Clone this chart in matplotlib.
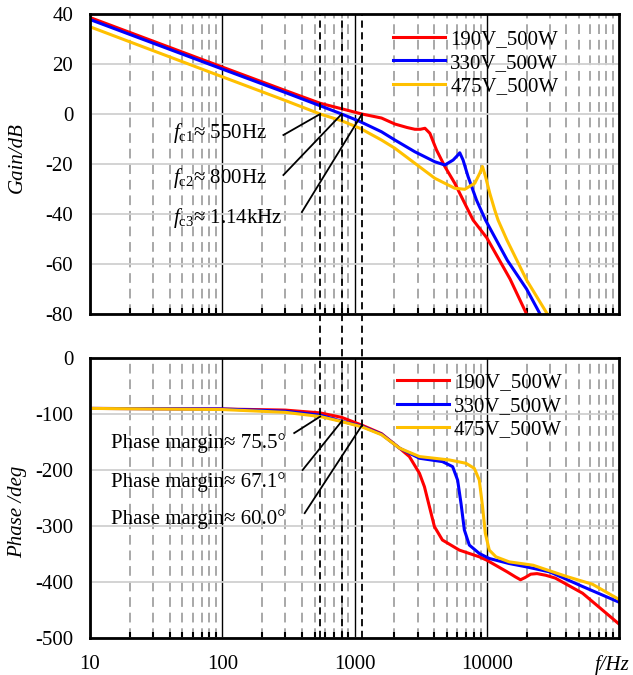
import numpy as np
import matplotlib
matplotlib.use('Agg')
import matplotlib.pyplot as plt
from matplotlib.lines import Line2D
from matplotlib import transforms
from matplotlib.ticker import NullFormatter, LogLocator

plt.rcParams['font.family'] = ['Liberation Serif', 'DejaVu Serif']
plt.rcParams['mathtext.fontset'] = 'custom'
plt.rcParams['mathtext.rm'] = 'Liberation Serif'
plt.rcParams['mathtext.it'] = 'Liberation Serif:italic'
plt.rcParams['axes.unicode_minus'] = False

labels = ['190V_500W', '330V_500W', '475V_500W']
colors = ['#FF0000', '#0000FF', '#FFC000']

# gain curves [dB]
f_gain_190 = [10, 100, 300, 550, 800, 1140, 1600, 2020, 2500, 2860, 3150, 3410, 3715, 4170,
              4820, 5730, 7220, 7880, 10000, 15000, 20000, 22000]
gain_190 = [38.6, 18.8, 9.4, 4.3, 2.1, 0.0, -1.6, -4.0, -5.4, -6.1, -6.1, -5.7, -7.7, -14.4,
            -21.0, -27.7, -38.4, -42.4, -49.5, -66.0, -80.0, -86.0]

f_gain_330 = [10, 100, 300, 550, 800, 1100, 1600, 2020, 2860, 4050, 4820, 5570, 6000, 6250,
              6620, 7220, 8360, 9780, 14300, 20000, 25300, 27000]
gain_330 = [37.8, 18.0, 8.6, 3.3, 0.0, -3.0, -7.1, -10.4, -15.1, -19.1, -20.4, -18.4, -16.6, -15.5,
            -18.4, -25.0, -34.4, -42.4, -58.5, -70.0, -80.0, -83.0]

f_gain_475 = [10, 100, 300, 550, 800, 1100, 1600, 2020, 2860, 4050, 5730, 6820, 8110, 8850,
              9280, 9780, 10540, 11490, 12170, 14200, 20000, 28700, 31000]
gain_475 = [34.9, 14.9, 5.4, 0.0, -2.7, -5.7, -10.4, -13.7, -19.7, -25.7, -29.7, -30.1, -27.7, -23.7,
            -21.0, -25.0, -31.7, -38.4, -42.4, -50.4, -66.4, -80.0, -83.0]

# phase curves [deg]
f_phase_190 = [10, 100, 300, 550, 800, 1140, 1600, 2190, 2600, 3100, 3380, 3690, 4020, 4620,
               6200, 8780, 10000, 14300, 16500, 18000, 19500, 21500, 24000, 28000, 33000, 53000, 100000]
phase_190 = [-90, -91, -93, -98, -106, -120, -135, -161, -176, -206, -230, -266, -301, -325,
             -343, -355, -361, -382, -391, -396, -392, -386, -385, -388, -393, -420, -475]

f_phase_330 = [10, 100, 300, 550, 800, 1140, 1600, 2190, 3100, 4620, 5520, 6020, 6390, 6770,
               7380, 8780, 10450, 14780, 20000, 30000, 53000, 100000]
phase_330 = [-90, -91, -95, -102, -112.9, -122, -136, -161, -179, -185, -194, -218, -260, -307,
             -334, -349, -358, -367, -373, -382, -408, -436]

f_phase_475 = [10, 100, 300, 550, 800, 1140, 1600, 2190, 3100, 5210, 6970, 8050, 8780, 9300,
               9750, 10450, 11730, 14780, 22400, 40000, 63000, 100000]
phase_475 = [-90, -92, -97, -104.5, -113.5, -123, -137, -161, -176, -182, -188, -197, -218, -266,
             -313, -343, -355, -364, -370, -390, -404, -431]

# crossover frequencies and phase margins
fc_hz = [550, 800, 1140]
fc_text = ['550Hz', '800Hz', '1.14kHz']
pm_deg = [75.5, 67.1, 60.0]

fig = plt.figure(figsize=(6.33, 6.75), dpi=100)
ax1 = fig.add_axes([0.1422, 0.5348, 0.8357, 0.4444])
ax2 = fig.add_axes([0.1422, 0.0548, 0.8357, 0.4148])


def style_axes(ax, ylim, yticks):
    ax.set_xscale('log')
    ax.set_xlim(10, 1e5)
    ax.set_ylim(*ylim)
    ax.set_yticks(yticks)
    ax.set_xticks([10, 100, 1000, 10000])
    ax.xaxis.set_minor_locator(LogLocator(base=10, subs=np.arange(2, 10)))
    ax.xaxis.set_minor_formatter(NullFormatter())
    ax.set_axisbelow(True)
    ax.grid(True, which='major', axis='y', color='#d0d0d0', lw=1.3)
    ax.grid(True, which='minor', axis='x', color='#a8a8a8', lw=1.4, ls=(0, (5, 3)))
    ax.grid(True, which='major', axis='x', color='black', lw=1.0)
    for s in ax.spines.values():
        s.set_linewidth(2.0)
    ax.tick_params(axis='y', length=0, pad=12, labelsize=15)
    ax.tick_params(axis='x', which='major', length=0, pad=12, labelsize=15)
    ax.tick_params(axis='x', which='minor', direction='in', length=4, width=1.5)


style_axes(ax1, (-80, 40), np.arange(-80, 41, 20))
style_axes(ax2, (-500, 0), np.arange(-500, 1, 100))
ax1.set_xticklabels([])
ax2.set_xticklabels(['10', '100', '1000', '10000'])

for f, g, c, lab in zip([f_gain_190, f_gain_330, f_gain_475],
                        [gain_190, gain_330, gain_475], colors, labels):
    ax1.plot(f, g, color=c, lw=2.2, label=lab)
for f, p, c, lab in zip([f_phase_190, f_phase_330, f_phase_475],
                        [phase_190, phase_330, phase_475], colors, labels):
    ax2.plot(f, p, color=c, lw=2.2, label=lab)

for ax, anchor in [(ax1, (0.573, 0.948)), (ax2, (0.58, 0.947))]:
    ax.legend(loc='upper left', bbox_to_anchor=anchor, frameon=False, fontsize=15,
              handlelength=2.5, handletextpad=0.25, labelspacing=0.19,
              borderpad=0, borderaxespad=0)

ax1.set_ylabel('Gain/dB', fontsize=15, fontstyle='italic')
ax1.yaxis.set_label_coords(-0.119, 0.523)
ax2.set_ylabel('Phase /deg', fontsize=15, fontstyle='italic')
ax2.yaxis.set_label_coords(-0.119, 0.45)
ax2.text(0.987, -0.096, 'f/Hz', transform=ax2.transAxes, ha='center', va='center',
         fontsize=15, fontstyle='italic')

# dashed markers at the crossover frequencies, through both plots
trans = transforms.blended_transform_factory(ax1.transData, fig.transFigure)
for fc in fc_hz:
    fig.add_artist(Line2D([fc, fc], [0.0548, 0.9793], transform=trans, color='black',
                          lw=1.3, dashes=(4, 2.5)))

# crossover labels on the gain plot
gain_text_y = [-7.6, -25.6, -41.6]
gain_line_start = [(290, -8.4), (290, -24.4), (400, -39.2)]
for i, fc in enumerate(fc_hz):
    ax1.text(42.7, gain_text_y[i], r'$f_{\mathrm{c%d}}$≈ %s' % (i + 1, fc_text[i]),
             fontsize=15, ha='left', va='center')
    x0, y0 = gain_line_start[i]
    ax1.plot([x0, fc], [y0, 0], color='black', lw=1.3)

# phase margin labels on the phase plot
phase_text_y = [-152, -221, -287]
phase_line_start = [(350, -134), (405, -200), (420, -277)]
for i, fc in enumerate(fc_hz):
    ax2.text(14.3, phase_text_y[i], 'Phase margin≈ %.1f°' % pm_deg[i],
             fontsize=15, ha='left', va='center')
    x0, y0 = phase_line_start[i]
    ax2.plot([x0, fc], [y0, -180 + pm_deg[i]], color='black', lw=1.3)

fig.savefig('out.png', dpi=100)
